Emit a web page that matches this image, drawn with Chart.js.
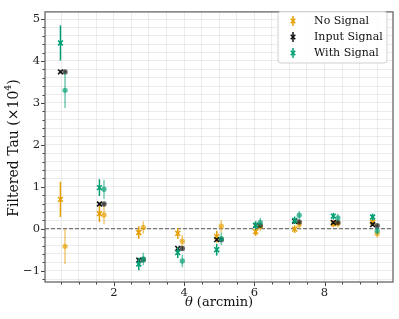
<!DOCTYPE html>
<html><head><meta charset="utf-8">
<script src="https://cdn.jsdelivr.net/npm/chart.js@4.4.1/dist/chart.umd.min.js"></script>
<style>html,body{margin:0;padding:0;background:#fff}canvas{display:block}</style>
</head><body>
<canvas id="c" width="399" height="319"></canvas>
<script>
// ---- data ----
const thetaCross = [0.48, 1.59, 2.71, 3.82, 4.93, 6.04, 7.15, 8.25, 9.37];
const thetaDot   = [0.61, 1.72, 2.84, 3.95, 5.06, 6.17, 7.28, 8.38, 9.50];

const noSignalCross   = [0.70, 0.36, -0.09, -0.11, -0.19, -0.07, -0.01, 0.12, 0.16];
const noSignalDot     = [-0.42, 0.33, 0.03, -0.30, 0.06, 0.05, 0.10, 0.12, -0.12];
const inputSignalCross= [3.74, 0.59, -0.75, -0.47, -0.26, 0.08, 0.18, 0.15, 0.10];
const inputSignalDot  = [3.74, 0.59, -0.74, -0.47, -0.26, 0.08, 0.16, 0.15, 0.07];
const withSignalCross = [4.43, 0.98, -0.84, -0.57, -0.50, 0.08, 0.20, 0.30, 0.28];
const withSignalDot   = [3.30, 0.94, -0.72, -0.77, -0.24, 0.15, 0.32, 0.26, -0.05];

const errCross = [0.42, 0.20, 0.15, 0.13, 0.14, 0.10, 0.09, 0.08, 0.08];
const errDot   = [0.42, 0.23, 0.15, 0.15, 0.15, 0.11, 0.10, 0.09, 0.09];
const errInput = [0.03, 0.03, 0.03, 0.03, 0.03, 0.03, 0.03, 0.03, 0.03];

const seriesNames = ['No Signal', 'Input Signal', 'With Signal'];
const xMajorTicks = [2, 4, 6, 8];
const xTickValues = [0.5,1,1.5,2,2.5,3,3.5,4,4.5,5,5.5,6,6.5,7,7.5,8,8.5,9,9.5];
const yMajorTicks = [-1, 0, 1, 2, 3, 4, 5];
const yTickValues = [-1.2,-1,-0.8,-0.6,-0.4,-0.2,0,0.2,0.4,0.6,0.8,1,1.2,1.4,1.6,1.8,2,2.2,2.4,2.6,2.8,3,3.2,3.4,3.6,3.8,4,4.2,4.4,4.6,4.8,5];

// ---- styles ----
const ORANGE = '#E69F00', BLACK = '#111111', GREEN = '#009E73';
const FONT = "'DejaVu Serif', serif";
function rgba(hex, a){const n=parseInt(hex.slice(1),16);return `rgba(${n>>16&255},${n>>8&255},${n&255},${a})`;}
function pts(xs, ys){return xs.map((x,i)=>({x, y: ys[i]}));}

function crossDs(label, xs, ys, err, color, order){
  return {label, data: pts(xs, ys), err, errColor: color, pointStyle:'crossRot', pointRadius:3.4,
    borderColor: color, backgroundColor: color, pointBorderWidth:1.6, order, showLine:false};
}
function dotDs(label, xs, ys, err, color, order){
  return {label, data: pts(xs, ys), err, errColor: rgba(color,0.55), pointStyle:'circle', pointRadius:2.7,
    borderColor: rgba(color,0.65), backgroundColor: rgba(color,0.65), pointBorderWidth:0, order, showLine:false};
}

const datasets = [
  crossDs(seriesNames[0], thetaCross, noSignalCross, errCross, ORANGE, 6),
  dotDs(seriesNames[0], thetaDot, noSignalDot, errDot, ORANGE, 5),
  crossDs(seriesNames[1], thetaCross, inputSignalCross, errInput, BLACK, 4),
  dotDs(seriesNames[1], thetaDot, inputSignalDot, errInput, BLACK, 3),
  crossDs(seriesNames[2], thetaCross, withSignalCross, errCross, GREEN, 2),
  dotDs(seriesNames[2], thetaDot, withSignalDot, errDot, GREEN, 1),
];
const legendColors = [ORANGE, BLACK, GREEN];

const deco = {
  id: 'deco',
  beforeDatasetsDraw(chart){
    const {ctx, chartArea:a, scales:{y}} = chart;
    const y0 = y.getPixelForValue(0);
    ctx.save(); ctx.strokeStyle = '#555'; ctx.lineWidth = 1; ctx.setLineDash([4,2]);
    ctx.beginPath(); ctx.moveTo(a.left, y0); ctx.lineTo(a.right, y0); ctx.stroke(); ctx.restore();
  },
  beforeDatasetDraw(chart, args){
    const ds = chart.data.datasets[args.index];
    const {ctx, scales:{x, y}} = chart;
    ctx.save(); ctx.strokeStyle = ds.errColor; ctx.lineWidth = 1.5;
    ds.data.forEach((p, i) => {
      const px = x.getPixelForValue(p.x), e = ds.err[i];
      ctx.beginPath(); ctx.moveTo(px, y.getPixelForValue(p.y - e)); ctx.lineTo(px, y.getPixelForValue(p.y + e)); ctx.stroke();
    });
    ctx.restore();
  },
  afterDraw(chart){
    const {ctx, chartArea:a, scales:{x, y}} = chart;
    ctx.save();
    // tick marks
    ctx.strokeStyle = '#444'; ctx.lineWidth = 1;
    xTickValues.forEach(v => {
      const px = Math.round(x.getPixelForValue(v)) + 0.5;
      const len = xMajorTicks.includes(v) ? 4 : 2.5;
      ctx.beginPath(); ctx.moveTo(px, a.bottom); ctx.lineTo(px, a.bottom + len); ctx.stroke();
    });
    yTickValues.forEach(v => {
      const py = Math.round(y.getPixelForValue(v)) + 0.5;
      const len = yMajorTicks.some(m => Math.abs(m - v) < 1e-9) ? 4 : 2.5;
      ctx.beginPath(); ctx.moveTo(a.left, py); ctx.lineTo(a.left - len, py); ctx.stroke();
    });
    // spines
    ctx.strokeStyle = '#666'; ctx.lineWidth = 1.3;
    ctx.strokeRect(a.left, a.top, a.right - a.left, a.bottom - a.top);
    // axis titles
    ctx.fillStyle = '#111';
    ctx.textBaseline = 'middle';
    const t1 = 'θ', t2 = ' (arcmin)';
    ctx.font = `italic 13px ${FONT}`; const w1 = ctx.measureText(t1).width;
    ctx.font = `13px ${FONT}`; const w2 = ctx.measureText(t2).width;
    let sx = (a.left + a.right) / 2 - (w1 + w2) / 2;
    ctx.textAlign = 'left';
    ctx.font = `italic 13px ${FONT}`; ctx.fillText(t1, sx, 303);
    ctx.font = `13px ${FONT}`; ctx.fillText(t2, sx + w1, 303);
    // y title
    ctx.save();
    ctx.translate(14, (a.top + a.bottom) / 2 + 1);
    ctx.rotate(-Math.PI / 2);
    const parts = [['Filtered Tau (×10', 14, 0], ['4', 9.5, -5.5], [')', 14, 0]];
    let tw = 0; parts.forEach(p => { ctx.font = `${p[1]}px ${FONT}`; tw += ctx.measureText(p[0]).width; });
    let cx = -tw / 2;
    parts.forEach(p => { ctx.font = `${p[1]}px ${FONT}`; ctx.fillText(p[0], cx, p[2]); cx += ctx.measureText(p[0]).width; });
    ctx.restore();
    // legend
    const lx = 278, ly = 11.5, lw = 109, lh = 51.5;
    ctx.beginPath();
    ctx.roundRect(lx, ly, lw, lh, 3);
    ctx.fillStyle = 'rgba(255,255,255,0.85)'; ctx.fill();
    ctx.strokeStyle = '#d0d0d0'; ctx.lineWidth = 1; ctx.stroke();
    seriesNames.forEach((name, i) => {
      const yy = 21 + i * 16, mx = 293;
      const c = legendColors[i];
      ctx.strokeStyle = c; ctx.lineWidth = 1.5;
      ctx.beginPath(); ctx.moveTo(mx, yy - 5); ctx.lineTo(mx, yy + 5); ctx.stroke();
      ctx.beginPath(); ctx.moveTo(mx - 2.3, yy - 2.3); ctx.lineTo(mx + 2.3, yy + 2.3);
      ctx.moveTo(mx - 2.3, yy + 2.3); ctx.lineTo(mx + 2.3, yy - 2.3); ctx.stroke();
      ctx.fillStyle = '#111'; ctx.font = `11px ${FONT}`; ctx.textAlign = 'left'; ctx.textBaseline = 'middle';
      ctx.fillText(name, 314, yy);
    });
    ctx.restore();
  }
};

new Chart(document.getElementById('c'), {
  type: 'scatter',
  data: { datasets },
  options: {
    responsive: false, animation: false, events: [],
    layout: { padding: { top: 6, right: 6, left: 0, bottom: 0 } },
    plugins: { legend: { display: false }, tooltip: { enabled: false } },
    scales: {
      x: {
        type: 'linear', min: 0.04, max: 9.95,
        afterBuildTicks: s => { s.ticks = xTickValues.map(v => ({ value: v })); },
        afterFit: s => { s.height = 37; },
        ticks: { font: { family: FONT, size: 11.5 }, color: '#222', padding: 4, autoSkip: false, maxRotation: 0,
          callback: v => xMajorTicks.includes(v) ? String(v) : '' },
        grid: { color: '#e6e6e6', lineWidth: 0.8, drawTicks: false },
        border: { display: false }
      },
      y: {
        type: 'linear', min: -1.27, max: 5.17,
        afterBuildTicks: s => { s.ticks = yTickValues.map(v => ({ value: v })); },
        afterFit: s => { s.width = 45; },
        ticks: { font: { family: FONT, size: 11.5 }, color: '#222', padding: 5, autoSkip: false,
          callback: v => { const m = yMajorTicks.find(t => Math.abs(t - v) < 1e-9); return m === undefined ? '' : (m < 0 ? '\u2212' + Math.abs(m) : String(m)); } },
        grid: { color: '#e6e6e6', lineWidth: 0.8, drawTicks: false },
        border: { display: false }
      }
    }
  },
  plugins: [deco]
});
</script>
</body></html>
